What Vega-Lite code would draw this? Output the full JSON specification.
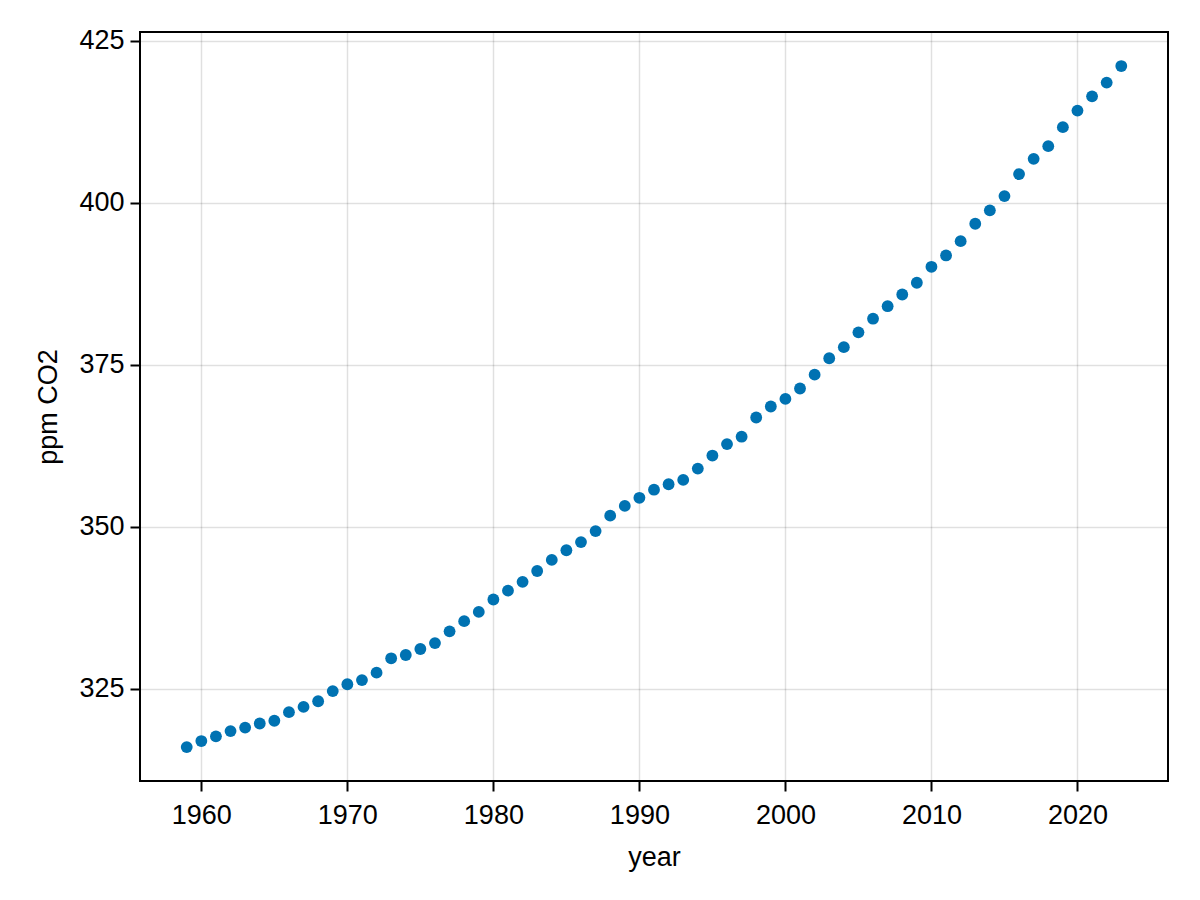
{
  "$schema": "https://vega.github.io/schema/vega-lite/v6.json",
  "autosize": "none",
  "width": 1028,
  "height": 749,
  "padding": {"left": 140, "top": 32, "right": 32, "bottom": 119},
  "background": "white",
  "config": {
    "view": {"stroke": "black", "strokeWidth": 2},
    "font": "Liberation Sans",
    "axis": {
      "domain": false,
      "grid": true,
      "gridColor": "black",
      "gridOpacity": 0.12,
      "gridWidth": 1.5,
      "tickColor": "black",
      "tickSize": 10,
      "tickWidth": 2,
      "labelFont": "Liberation Sans",
      "labelFontSize": 27,
      "labelColor": "black",
      "labelPadding": 6,
      "titleFont": "Liberation Sans",
      "titleFontSize": 27,
      "titleFontWeight": "normal",
      "titleColor": "black"
    }
  },
  "data": {
    "values": [
      {"year": 1959, "ppm": 315.98}, {"year": 1960, "ppm": 316.91}, {"year": 1961, "ppm": 317.64},
      {"year": 1962, "ppm": 318.45}, {"year": 1963, "ppm": 318.99}, {"year": 1964, "ppm": 319.62},
      {"year": 1965, "ppm": 320.04}, {"year": 1966, "ppm": 321.37}, {"year": 1967, "ppm": 322.18},
      {"year": 1968, "ppm": 323.05}, {"year": 1969, "ppm": 324.62}, {"year": 1970, "ppm": 325.68},
      {"year": 1971, "ppm": 326.32}, {"year": 1972, "ppm": 327.46}, {"year": 1973, "ppm": 329.68},
      {"year": 1974, "ppm": 330.19}, {"year": 1975, "ppm": 331.12}, {"year": 1976, "ppm": 332.03},
      {"year": 1977, "ppm": 333.84}, {"year": 1978, "ppm": 335.41}, {"year": 1979, "ppm": 336.84},
      {"year": 1980, "ppm": 338.76}, {"year": 1981, "ppm": 340.12}, {"year": 1982, "ppm": 341.48},
      {"year": 1983, "ppm": 343.15}, {"year": 1984, "ppm": 344.87}, {"year": 1985, "ppm": 346.35},
      {"year": 1986, "ppm": 347.61}, {"year": 1987, "ppm": 349.31}, {"year": 1988, "ppm": 351.69},
      {"year": 1989, "ppm": 353.2}, {"year": 1990, "ppm": 354.45}, {"year": 1991, "ppm": 355.7},
      {"year": 1992, "ppm": 356.54}, {"year": 1993, "ppm": 357.21}, {"year": 1994, "ppm": 358.96},
      {"year": 1995, "ppm": 360.97}, {"year": 1996, "ppm": 362.74}, {"year": 1997, "ppm": 363.88},
      {"year": 1998, "ppm": 366.84}, {"year": 1999, "ppm": 368.54}, {"year": 2000, "ppm": 369.71},
      {"year": 2001, "ppm": 371.32}, {"year": 2002, "ppm": 373.45}, {"year": 2003, "ppm": 375.98},
      {"year": 2004, "ppm": 377.7}, {"year": 2005, "ppm": 379.98}, {"year": 2006, "ppm": 382.09},
      {"year": 2007, "ppm": 384.02}, {"year": 2008, "ppm": 385.83}, {"year": 2009, "ppm": 387.64},
      {"year": 2010, "ppm": 390.1}, {"year": 2011, "ppm": 391.85}, {"year": 2012, "ppm": 394.06},
      {"year": 2013, "ppm": 396.74}, {"year": 2014, "ppm": 398.81}, {"year": 2015, "ppm": 401.01},
      {"year": 2016, "ppm": 404.41}, {"year": 2017, "ppm": 406.76}, {"year": 2018, "ppm": 408.72},
      {"year": 2019, "ppm": 411.65}, {"year": 2020, "ppm": 414.21}, {"year": 2021, "ppm": 416.41},
      {"year": 2022, "ppm": 418.53}, {"year": 2023, "ppm": 421.08}
    ]
  },
  "mark": {"type": "circle", "size": 140, "color": "#0072B2", "opacity": 1},
  "encoding": {
    "x": {
      "field": "year", "type": "quantitative",
      "scale": {"domain": [1955.8, 2026.2], "nice": false, "zero": false},
      "axis": {"values": [1960, 1970, 1980, 1990, 2000, 2010, 2020], "format": "d", "title": "year", "labelPadding": 11, "titlePadding": 16}
    },
    "y": {
      "field": "ppm", "type": "quantitative",
      "scale": {"domain": [310.745, 426.335], "nice": false, "zero": false},
      "axis": {"values": [325, 350, 375, 400, 425], "format": "d", "title": "ppm CO2", "titlePadding": 16}
    }
  }
}
